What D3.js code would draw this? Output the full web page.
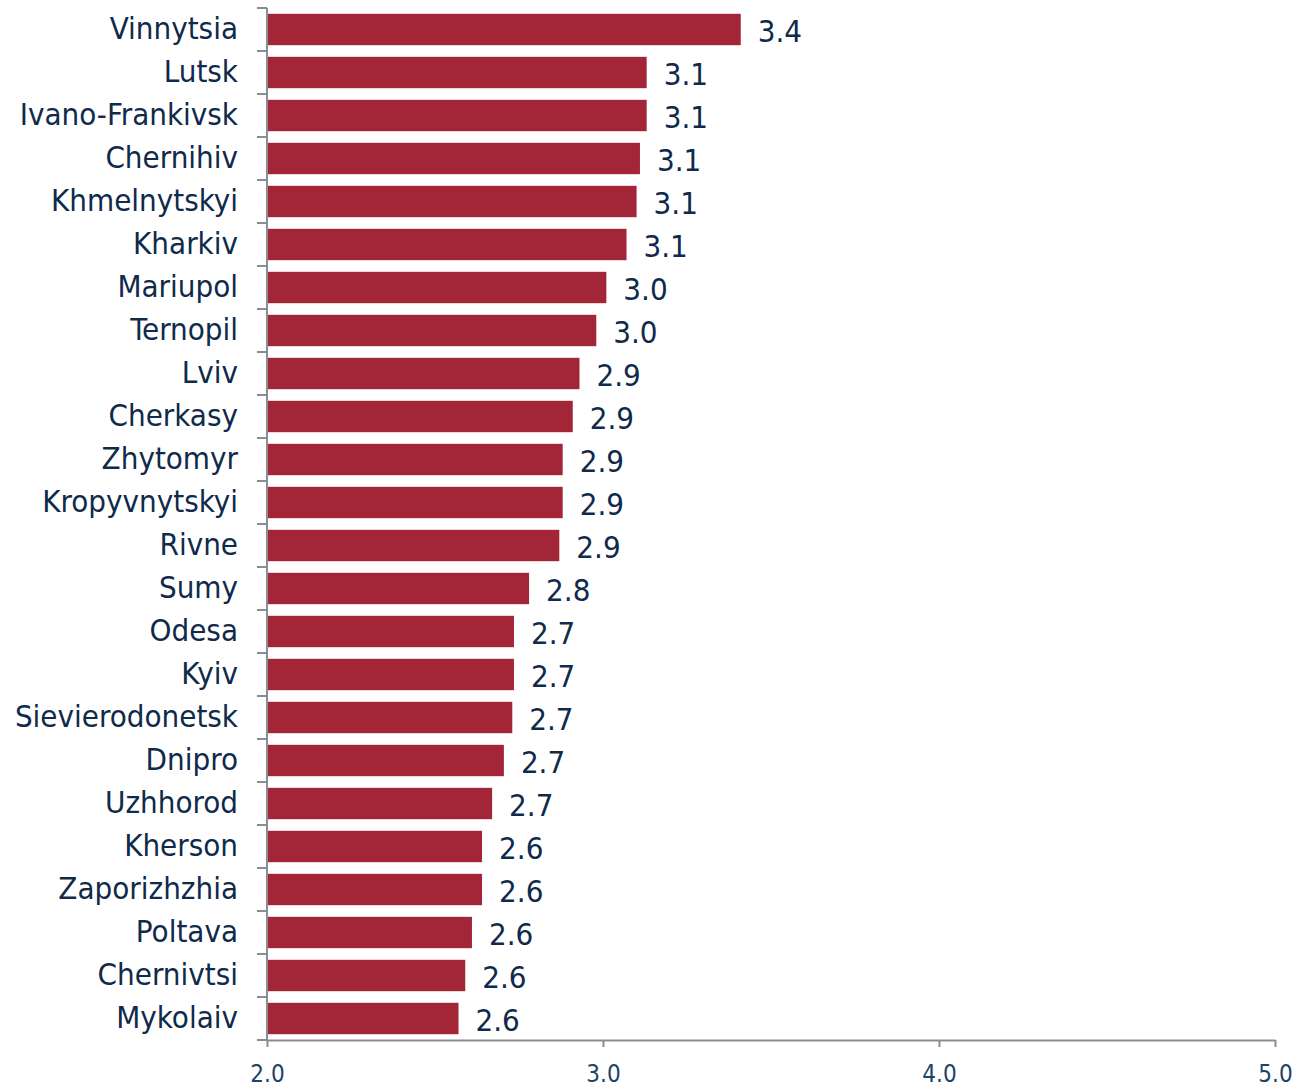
<!DOCTYPE html>
<html>
<head>
<meta charset="utf-8">
<script src="https://cdn.jsdelivr.net/npm/d3@7"></script>
<style>
    body { margin: 0; background: #fff; }
    text { font-family: "DejaVu Sans Condensed", "DejaVu Sans", sans-serif; }
</style>
</head>
<body>
<svg width="1299" height="1087"></svg>
<script>
// cities, top to bottom
let cities = ["Vinnytsia", "Lutsk", "Ivano-Frankivsk", "Chernihiv", "Khmelnytskyi", "Kharkiv",
    "Mariupol", "Ternopil", "Lviv", "Cherkasy", "Zhytomyr", "Kropyvnytskyi", "Rivne", "Sumy",
    "Odesa", "Kyiv", "Sievierodonetsk", "Dnipro", "Uzhhorod", "Kherson", "Zaporizhzhia",
    "Poltava", "Chernivtsi", "Mykolaiv"];

// values
let values = [3.41, 3.13, 3.13, 3.11, 3.10, 3.07, 3.01, 2.98, 2.93, 2.91, 2.88, 2.88, 2.87, 2.78,
    2.735, 2.735, 2.73, 2.705, 2.67, 2.64, 2.64, 2.61, 2.59, 2.57];

let xTicks = [2, 3, 4, 5];

let data = cities.map((c, i) => ({ city: c, value: values[i] }));

let svg = d3.select("svg");
let margin = { top: 8, right: 24, bottom: 47, left: 267 },
    width = +svg.attr("width") - margin.left - margin.right,
    height = +svg.attr("height") - margin.top - margin.bottom;

let g = svg.append("g")
    .attr("transform", "translate(" + margin.left + "," + margin.top + ")");

let x = d3.scaleLinear()
    .domain([2, 5])
    .range([0, width]);

let pad = 0.27;
let y = d3.scaleBand()
    .domain(cities)
    .range([0, height])
    .paddingInner(pad)
    .paddingOuter(pad / 2);

// bars
g.selectAll(".bar")
    .data(data)
    .enter()
    .append("rect")
    .classed("bar", true)
    .attr("x", 0)
    .attr("y", d => y(d.city))
    .attr("width", d => x(d.value) - x(2))
    .attr("height", y.bandwidth())
    .attr("fill", "#a32638");

// value labels
g.selectAll(".val")
    .data(data)
    .enter()
    .append("text")
    .classed("val", true)
    .attr("x", d => x(d.value) + 17)
    .attr("y", d => y(d.city) + y.bandwidth() / 2)
    .attr("dy", "0.4em")
    .style("font-size", "31px")
    .attr("fill", "#0f2a4a")
    .text(d => d3.format(".1f")(d.value));

// x axis
let xAxis = g.append("g")
    .attr("transform", "translate(0," + height + ")")
    .call(d3.axisBottom(x).tickValues(xTicks).tickFormat(d3.format(".1f")).tickSize(7).tickSizeOuter(0));
xAxis.select(".domain").attr("stroke", "#8a8d91").attr("stroke-width", 2);
xAxis.selectAll(".tick line").attr("stroke", "#8a8d91").attr("stroke-width", 2);
xAxis.selectAll(".tick text")
    .attr("y", 42)
    .attr("dy", 0)
    .style("font-size", "24px")
    .attr("fill", "#1a4468");

// y axis: line, ticks at band boundaries, labels
let step = y.step();
g.append("line")
    .attr("x1", 0).attr("x2", 0)
    .attr("y1", 0).attr("y2", height)
    .attr("stroke", "#8a8d91")
    .attr("stroke-width", 2);

let bounds = cities.map(c => y(c) - step * pad / 2).concat([height]);
g.selectAll(".ytick")
    .data(bounds)
    .enter()
    .append("line")
    .classed("ytick", true)
    .attr("x1", -10).attr("x2", 0)
    .attr("y1", d => d).attr("y2", d => d)
    .attr("stroke", "#8a8d91")
    .attr("stroke-width", 2);

g.selectAll(".cat")
    .data(cities)
    .enter()
    .append("text")
    .classed("cat", true)
    .attr("x", -29)
    .attr("y", d => y(d) + y.bandwidth() / 2)
    .attr("dy", "0.32em")
    .attr("text-anchor", "end")
    .style("font-size", "31px")
    .attr("fill", "#0f2a4a")
    .text(d => d);
</script>
</body>
</html>
